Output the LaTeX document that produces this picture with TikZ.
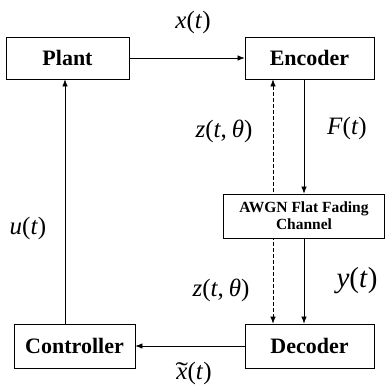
\documentclass[tikz,border=0pt]{standalone}
\usepackage{fontspec}
\usepackage{graphicx}
\setmainfont{Liberation Serif}
\usetikzlibrary{arrows.meta,backgrounds}
\newcommand{\tildex}{\ooalign{\textit{x}\cr\hidewidth\scalebox{1.5}[1]{\char"02DC}\hidewidth\cr}}
\begin{document}
\begin{tikzpicture}[x=1pt,y=-1pt,
  blk/.style={draw,line width=0.9pt,fill=white,font=\bfseries\fontsize{22}{24}\selectfont,inner sep=0pt},
  lbl/.style={font=\fontsize{25}{27}\selectfont,inner sep=0pt},
  arr/.style={line width=0.6pt,-{Latex[length=7pt,width=5.5pt]}},
  darr/.style={line width=0.6pt,dash pattern=on 3.5pt off 2.5pt,{Latex[length=7pt,width=5.5pt]}-{Latex[length=7pt,width=5.5pt]}}]
\useasboundingbox (0,0) rectangle (385,391);
\node[blk,minimum width=123pt,minimum height=42pt] (plant) at (67.5,58) {Plant};
\node[blk,minimum width=129pt,minimum height=42pt] (enc) at (309.5,58) {Encoder};
\node[blk,minimum width=121pt,minimum height=44pt] (ctrl) at (74.5,346) {Controller};
\node[blk,minimum width=129pt,minimum height=44pt] (dec) at (309.5,346) {Decoder};
\node[blk,minimum width=161pt,minimum height=44pt,align=center,font=\bfseries\fontsize{15.5}{17}\selectfont] (ch) at (304,216) {AWGN Flat Fading\\Channel};
\coordinate (etop) at (enc.south -| 273,0);
\coordinate (dbot) at (dec.north -| 273,0);
\begin{scope}[on background layer]
\draw[darr] (etop) -- (dbot);
\end{scope}
\draw[arr] (plant.east) -- (enc.west);
\draw[arr] (enc.south -| ch.north) -- (ch.north);
\draw[arr] (ch.south) -- (dec.north -| ch.south);
\draw[arr] (dec.west) -- (ctrl.east);
\draw[arr] (ctrl.north -| 65,0) -- (plant.south -| 65,0);
\node[lbl] (lx) at (193,22) {\textit{x}(\textit{t})};
\node[lbl] (lu) at (28,228) {\textit{u}(\textit{t})};
\node[lbl] (lz1) at (224,131) {\textit{z}(\textit{t},\hspace{0.2em}\textit{θ})};
\node[lbl] (lf) at (347,128) {\textit{F}(\textit{t})};
\node[lbl] (lz2) at (221,290) {\textit{z}(\textit{t},\hspace{0.2em}\textit{θ})};
\node[lbl,font=\fontsize{29}{31}\selectfont] (ly) at (357,281) {\textit{y}(\textit{t})};
\node[lbl] (lxt) at (194,373) {\tildex(\textit{t})};
\end{tikzpicture}
\end{document}
